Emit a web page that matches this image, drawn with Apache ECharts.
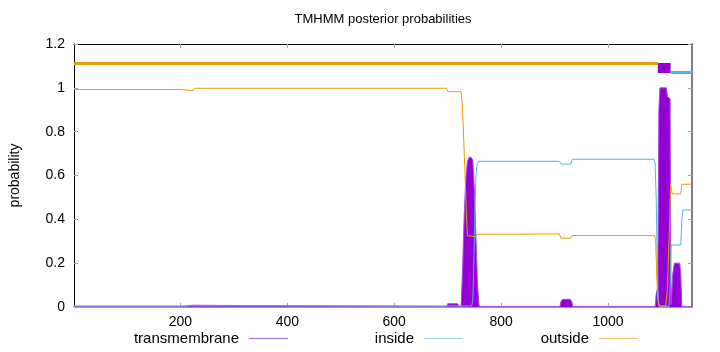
<!DOCTYPE html>
<html><head><meta charset="utf-8">
<script src="https://cdn.jsdelivr.net/npm/echarts@6/dist/echarts.min.js"></script>
<style>html,body{margin:0;padding:0;background:#fff}#c{width:720px;height:352px}</style>
</head><body><div id="c"></div>
<script>
// ---- data ----
const titleText = 'TMHMM posterior probabilities';
const yName = 'probability';
const seqStart = 1, seqEnd = 1157;
const xTicks = [200, 400, 600, 800, 1000];
const yTicks = [0, 0.2, 0.4, 0.6, 0.8, 1, 1.2];
const legendNames = ['transmembrane', 'inside', 'outside'];

const tmData = [[1,0.002],[203,0.002],[205,0.008],[222,0.008],[224,0.002],[698,0.002],[700,0.015],[719,0.015],[721,0.002],
  [725,0.002],[728,0.18],[731,0.43],[734,0.59],[737,0.665],[740,0.683],[744,0.683],[747,0.67],[750,0.53],[753,0.31],[756,0.09],[759,0.002],
  [910,0.002],[912,0.025],[915,0.035],[929,0.035],[932,0.025],[934,0.002],
  [1088,0.002],[1090,0.06],[1093,0.09],[1095,0.9],[1097,1.0],[1109,1.0],[1111,0.96],[1116,0.95],[1117,0.3],[1118,0.01],
  [1119,0.01],[1121,0.15],[1124,0.2],[1134,0.2],[1136,0.15],[1138,0.002],[1157,0.002]];

const insideData = [[1,0.005],[745,0.005],[747,0.03],[749,0.2],[751,0.45],[753,0.6],[755,0.65],[758,0.665],
  [909,0.665],[912,0.652],[930,0.652],[933,0.674],[1086,0.674],[1088,0.66],[1090,0.5],[1092,0.2],[1094,0.03],[1096,0.003],
  [1114,0.003],[1116,0.1],[1118,0.283],[1136,0.283],[1138,0.4],[1140,0.443],[1157,0.443]];

const outsideData = [[1,0.992],[200,0.992],[202,0.987],[224,0.987],[226,0.998],[698,0.998],[700,0.983],[725,0.982],
  [727,0.93],[729,0.83],[731,0.7],[733,0.56],[735,0.42],[737,0.325],[753,0.322],[755,0.332],
  [909,0.333],[912,0.314],[930,0.314],[933,0.326],[1087,0.326],[1089,0.3],[1091,0.15],[1093,0.03],[1095,0.005],
  [1108,0.005],[1111,0.08],[1114,0.3],[1117,0.56],[1119,0.56],[1120,0.516],[1136,0.516],[1138,0.56],[1157,0.56]];

// predicted topology: [start, end]
const topoOutside = [1, 1093];
const topoTM = [1093, 1117];
const topoInside = [1117, 1157];
const topoLevels = {outside: 1.111, tm: 1.0906, inside: 1.07};

// ---- chart ----
const FONT = 'Liberation Sans, Arial, sans-serif';
const chart = echarts.init(document.getElementById('c'), null, {renderer: 'canvas'});
const C_TM = '#9400D3', C_IN = '#56B4E9', C_OUT = '#E69F00';

function legendFor(name, color, right) {
  return {
    data: [{name: name, icon: 'rect', itemStyle: {color: color}}],
    right: right, top: 331, orient: 'horizontal', align: 'right',
    itemWidth: 39, itemHeight: 1, padding: 0, selectedMode: false,
    textStyle: {fontFamily: FONT, fontSize: 15, color: '#000', padding: [0, 5, 0, 0]}
  };
}

const option = {
  animation: false,
  backgroundColor: '#fff',
  title: {text: titleText, left: 383, top: 13, textAlign: 'center', padding: 0,
    textStyle: {fontFamily: FONT, fontSize: 13, fontWeight: 'normal', color: '#000'}},
  legend: [
    legendFor(legendNames[0], '#b070e0', 432),
    legendFor(legendNames[1], '#9fd0ea', 257),
    legendFor(legendNames[2], '#f2c56e', 82)
  ],
  grid: {left: 73, right: 28, top: 44, bottom: 45, containLabel: false},
  xAxis: [
    {type: 'value', min: seqStart, max: seqEnd, position: 'bottom',
      axisLine: {show: true, onZero: false, lineStyle: {color: '#808080', width: 1.5}},
      axisTick: {show: true, inside: true, length: 4, customValues: xTicks, lineStyle: {color: '#a0a0a0'}},
      axisLabel: {customValues: xTicks, fontFamily: FONT, fontSize: 14, color: '#000', margin: 8,
        formatter: v => String(v)},
      splitLine: {show: false}},
    {type: 'value', min: seqStart, max: seqEnd, position: 'top',
      axisLine: {show: true, onZero: false, lineStyle: {color: '#000', width: 1}},
      axisTick: {show: true, inside: true, length: 4, customValues: xTicks, lineStyle: {color: '#a0a0a0'}},
      axisLabel: {show: false}, splitLine: {show: false}}
  ],
  yAxis: [
    {type: 'value', min: 0, max: 1.2, interval: 0.2, position: 'left',
      name: yName, nameLocation: 'middle', nameRotate: 90, nameGap: 52,
      nameTextStyle: {fontFamily: FONT, fontSize: 14, color: '#000'},
      axisLine: {show: true, onZero: false, lineStyle: {color: '#000', width: 1}},
      axisTick: {show: true, inside: true, length: 4, lineStyle: {color: '#a0a0a0'}},
      axisLabel: {fontFamily: FONT, fontSize: 14, color: '#000', margin: 9,
        formatter: v => String(Math.round(v * 10) / 10)},
      splitLine: {show: false}},
    {type: 'value', min: 0, max: 1.2, interval: 0.2, position: 'right',
      axisLine: {show: true, onZero: false, lineStyle: {color: '#808080', width: 2}},
      axisTick: {show: true, inside: true, length: 4, lineStyle: {color: '#a0a0a0'}},
      axisLabel: {show: false}, splitLine: {show: false}}
  ],
  series: [
    {name: legendNames[0], type: 'line', data: tmData, showSymbol: false, z: 2,
      lineStyle: {color: '#a64be0', width: 1}, itemStyle: {color: C_TM},
      areaStyle: {color: C_TM, opacity: 1}},
    {name: legendNames[1], type: 'line', data: insideData, showSymbol: false, z: 3,
      lineStyle: {color: C_IN, width: 1}, itemStyle: {color: C_IN}},
    {name: legendNames[2], type: 'line', data: outsideData, showSymbol: false, z: 4,
      lineStyle: {color: C_OUT, width: 1}, itemStyle: {color: C_OUT}},
    {name: 'topoOutside', type: 'line', showSymbol: false, z: 5,
      data: [[topoOutside[0], topoLevels.outside], [topoOutside[1], topoLevels.outside]],
      lineStyle: {color: C_OUT, width: 3, cap: 'butt'}},
    {name: 'topoTM', type: 'line', showSymbol: false, z: 5,
      data: [[topoTM[0], topoLevels.tm], [topoTM[1], topoLevels.tm]],
      lineStyle: {color: C_TM, width: 10, cap: 'butt'}},
    {name: 'topoInside', type: 'line', showSymbol: false, z: 5,
      data: [[topoInside[0], topoLevels.inside], [topoInside[1], topoLevels.inside]],
      lineStyle: {color: C_IN, width: 3, cap: 'butt'}}
  ]
};
chart.setOption(option);
</script></body></html>
